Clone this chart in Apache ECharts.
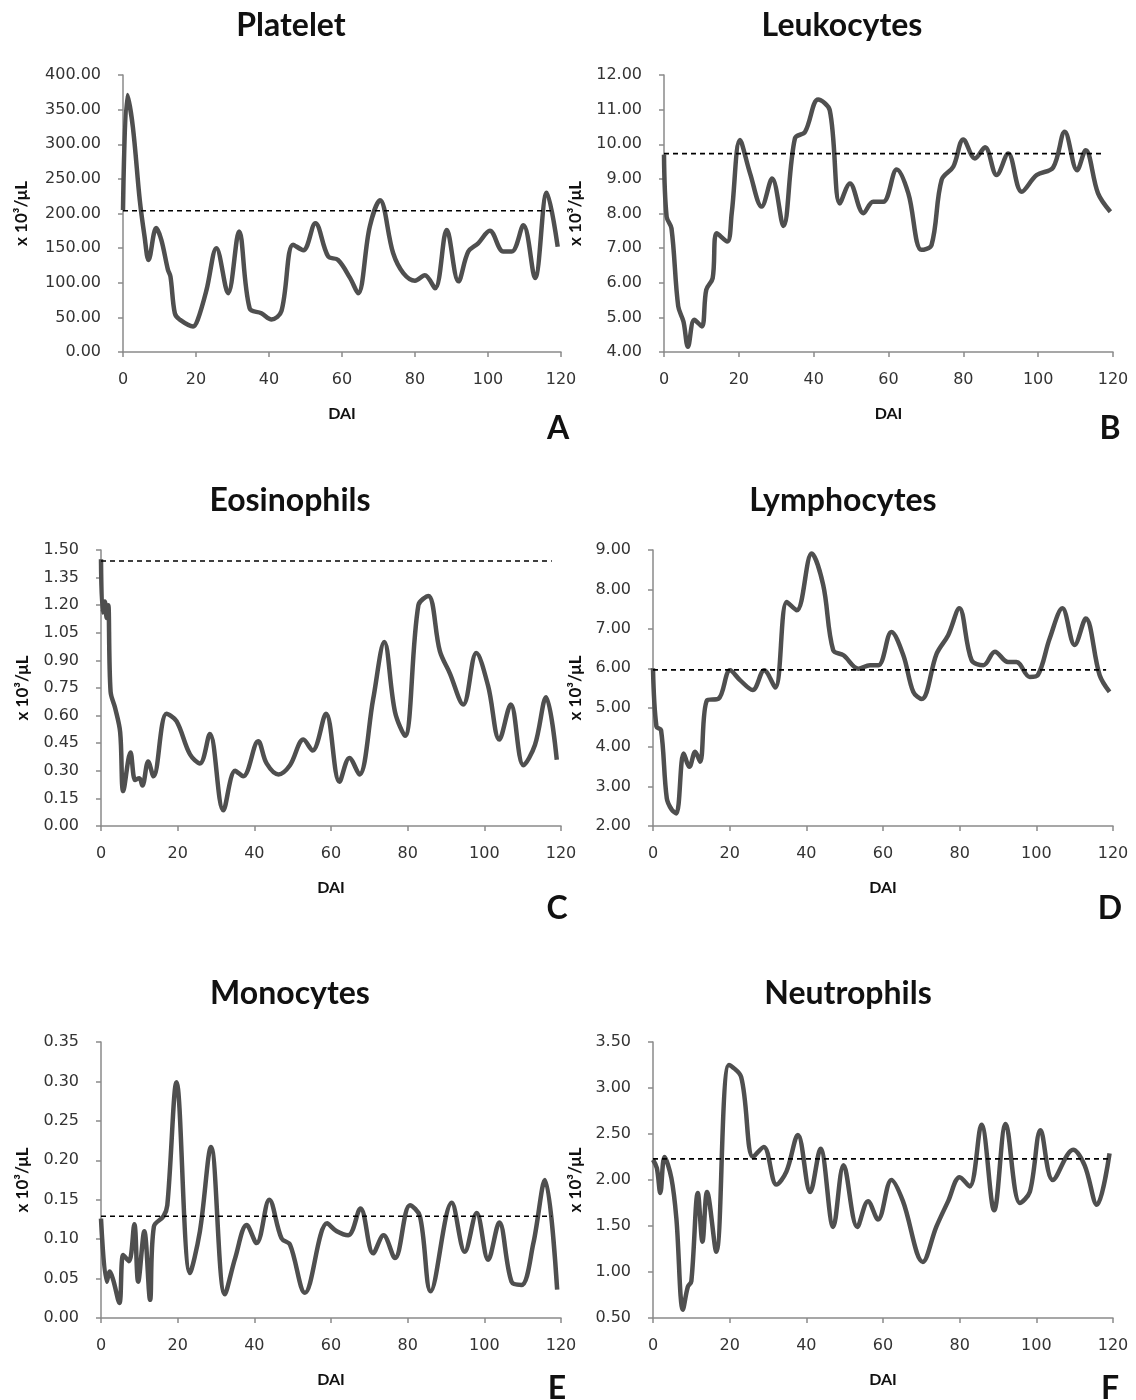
<!DOCTYPE html>
<html><head><meta charset="utf-8">
<script src="https://cdn.jsdelivr.net/npm/echarts@6/dist/echarts.min.js"></script>
<style>html,body{margin:0;padding:0;background:#fff}#c{width:1136px;height:1400px}</style>
</head><body><div id="c"></div>
<script>
const titles = ['Platelet','Leukocytes','Eosinophils','Lymphocytes','Monocytes','Neutrophils'];
const letters = ['A','B','C','D','E','F'];
const yUnit = 'x 10\u00b3/\u03bcL';
const xName = 'DAI';
const xTicks = [0, 20, 40, 60, 80, 100, 120];

const plateletDay = [0,1.2,2.7,4.6,5.9,7.0,9.1,10.5,12.3,13.0,14.2,15.5,19.2,20.5,22.9,25.6,28.8,31.8,34.7,37.9,40.7,43.4,46.6,49.4,52.7,56.2,58.9,62.2,64.4,67.6,70.4,74.0,76.8,80.0,82.7,85.5,88.7,91.9,94.6,97.3,100.5,104.2,106.5,109.7,112.9,116.1,119.1];
const plateletVal = [205,371,325,219,167,133,179,162,119,109,56,47,37,47,90,150,85,174,63,56,47,59,155,147,186,138,133,107,85,181,219,143,114,103,111,92,176,102,145,157,175,145,145,183,107,230,152];

const leukoDay = [0,0.7,2.0,3.8,5.2,6.4,8.1,10.1,11.3,13.0,14.1,16.9,18.1,20.3,23.0,26.1,28.9,31.9,35.0,37.7,41.2,44.3,47.0,49.7,53.3,55.9,58.6,62.2,65.3,68.8,71.5,74.2,77.3,80.0,83.1,85.8,88.9,92.0,95.6,99.6,104.0,107.1,110.4,112.7,116.0,119.3];
const leukoVal = [9.7,7.91,7.57,5.32,4.88,4.15,4.93,4.74,5.80,6.13,7.43,7.19,8.01,10.12,9.16,8.20,9.01,7.64,10.17,10.36,11.29,10.98,8.29,8.87,8.01,8.34,8.34,9.27,8.58,6.95,7.09,8.97,9.35,10.14,9.59,9.91,9.11,9.73,8.63,9.11,9.33,10.36,9.25,9.83,8.58,8.05];

const eosDay = [0,0.4,1.0,1.5,1.9,2.5,3.7,5.0,5.8,7.7,8.9,10.0,10.8,12.3,13.7,17.1,19.7,23.2,25.8,28.4,31.9,35.0,37.1,41.0,43.2,46.3,49.3,52.8,55.2,58.7,62.2,64.8,67.4,71.0,73.9,76.7,79.3,82.8,85.4,88.4,91.0,94.5,97.9,101.0,103.9,106.9,110.2,113.2,116.1,118.9];
const eosVal = [1.45,1.16,1.22,1.13,1.20,0.73,0.64,0.51,0.19,0.40,0.25,0.26,0.22,0.35,0.27,0.61,0.57,0.39,0.34,0.50,0.085,0.30,0.27,0.46,0.34,0.28,0.33,0.47,0.41,0.61,0.24,0.37,0.28,0.69,1.00,0.62,0.49,1.20,1.25,0.95,0.83,0.66,0.94,0.76,0.47,0.66,0.33,0.44,0.70,0.36];

const lymphDay = [0,0.9,2.1,3.6,4.9,6.1,8.0,9.5,11.0,12.3,14.1,17.1,20.1,22.7,26.0,29.0,31.9,34.9,37.5,41.4,44.4,47.0,49.7,53.6,56.6,58.8,62.2,65.3,67.9,70.1,74.0,77.0,79.9,83.1,86.2,89.2,92.6,94.8,98.3,100.4,103.5,106.8,110.0,112.9,116.5,119.1];
const lymphVal = [6.0,4.52,4.43,2.70,2.41,2.32,3.84,3.50,3.88,3.63,5.19,5.23,5.95,5.70,5.45,5.95,5.51,7.68,7.47,8.91,8.11,6.46,6.33,5.99,6.08,6.08,6.92,6.33,5.40,5.22,6.37,6.84,7.52,6.21,6.08,6.42,6.16,6.16,5.78,5.83,6.76,7.52,6.59,7.26,5.83,5.40];

const monoDay = [0,1.5,2.3,3.2,4.8,5.8,7.3,8.7,9.7,11.3,12.8,13.8,16.3,17.3,19.7,23.2,25.8,28.7,32.3,35.0,38.0,40.6,43.9,47.1,49.3,53.2,59.0,61.5,64.5,67.7,71.0,73.7,76.7,80.6,83.2,86.0,91.5,94.9,98.0,101.0,103.9,107.1,109.7,112.8,115.8,119.0];
const monoVal = [0.126,0.046,0.059,0.048,0.019,0.080,0.072,0.119,0.046,0.110,0.023,0.116,0.129,0.143,0.299,0.057,0.110,0.217,0.030,0.076,0.118,0.095,0.150,0.101,0.093,0.032,0.120,0.110,0.105,0.139,0.082,0.105,0.076,0.143,0.129,0.034,0.146,0.084,0.133,0.074,0.121,0.046,0.042,0.095,0.175,0.036];

const neutDay = [0,1.0,1.9,3.0,4.8,6.1,7.8,9.1,10.0,11.7,12.9,14.1,16.5,19.8,23.0,26.1,28.9,32.2,34.8,37.8,41.0,43.7,47.0,49.7,53.3,56.1,58.7,62.2,65.2,70.4,73.9,77.0,80.0,82.6,85.7,89.0,92.0,95.7,98.3,101.1,104.3,109.6,112.6,115.8,119.1];
const neutVal = [2.22,2.13,1.86,2.25,2.02,1.58,0.59,0.84,0.90,1.86,1.33,1.87,1.22,3.25,3.12,2.25,2.36,1.95,2.09,2.49,1.87,2.34,1.49,2.16,1.49,1.77,1.57,2.00,1.77,1.11,1.49,1.77,2.03,1.93,2.60,1.67,2.61,1.75,1.87,2.54,2.00,2.33,2.16,1.73,2.29];

const refLevel = [204, 9.73, 1.44, 5.96, 0.129, 2.23];
const refEnd = [117.5, 117.5, 117.6, 118.2, 117.6, 119];

const yMin = [0, 4, 0, 2, 0, 0.5];
const yMax = [400, 12, 1.5, 9, 0.35, 3.5];
const yStep = [50, 1, 0.15, 1, 0.05, 0.5];

const days = [plateletDay, leukoDay, eosDay, lymphDay, monoDay, neutDay];
const vals = [plateletVal, leukoVal, eosVal, lymphVal, monoVal, neutVal];

// layout (pixels)
const grids = [
  {left:123, top:75, width:438, height:277},
  {left:664, top:75, width:449, height:277},
  {left:101, top:550, width:460, height:276},
  {left:653, top:550, width:460, height:276},
  {left:101, top:1042, width:460, height:276},
  {left:653, top:1042, width:460, height:276}
];
const titlePos = [[291,26],[842,26],[290,501],[843,501],[290,994],[848,994]];
const letterPos = [[558,429],[1110,429],[557,909],[1110,909],[557,1389],[1110,1389]];
const yNameGap = [93, 80, 70, 69, 70, 69];

const FONT_T = 'Lato, "Open Sans", sans-serif';
const FONT_L = '"DejaVu Sans", Verdana, sans-serif';

const chart = echarts.init(document.getElementById('c'), null, {renderer:'canvas'});
const option = {
  backgroundColor:'#fff',
  animation:false,
  grid: grids.map(g => Object.assign({containLabel:false}, g)),
  xAxis: grids.map((g,i) => ({
    type:'value', gridIndex:i, min:xTicks[0], max:xTicks[xTicks.length-1], interval:20,
    name:xName, nameLocation:'middle', nameGap:54,
    nameTextStyle:{fontFamily:FONT_T, fontWeight:'bold', fontSize:16, color:'#111'},
    axisLine:{show:true, onZero:false, lineStyle:{color:'#8a8a8a', width:1.5}},
    axisTick:{show:true, inside:false, length:5, lineStyle:{color:'#8a8a8a', width:1.5}},
    axisLabel:{fontFamily:FONT_L, fontSize:16, color:'#333', margin:20},
    splitLine:{show:false}
  })),
  yAxis: grids.map((g,i) => ({
    type:'value', gridIndex:i, min:yMin[i], max:yMax[i], interval:yStep[i],
    name:yUnit, nameLocation:'middle', nameRotate:90, nameGap:yNameGap[i],
    nameTextStyle:{fontFamily:FONT_T, fontWeight:'bold', fontSize:17, color:'#111'},
    axisLine:{show:true, onZero:false, lineStyle:{color:'#8a8a8a', width:1.5}},
    axisTick:{show:true, inside:false, length:5, lineStyle:{color:'#8a8a8a', width:1.5}},
    axisLabel:{fontFamily:FONT_L, fontSize:16, color:'#333', margin:22,
      formatter: v => v.toFixed(2)},
    splitLine:{show:false}
  })),
  series: [],
  graphic: []
};
for (let i = 0; i < 6; i++) {
  option.series.push({
    type:'line', xAxisIndex:i, yAxisIndex:i, smooth:0.35, symbol:'none',
    lineStyle:{color:'#4f4f4f', width:4.5}, z:2,
    data: days[i].map((d,k) => [d, vals[i][k]])
  });
  option.series.push({
    type:'line', xAxisIndex:i, yAxisIndex:i, symbol:'none', silent:true,
    lineStyle:{color:'#000', width:1.6, type:[5,4]}, z:3,
    data: [[0, refLevel[i]], [refEnd[i], refLevel[i]]]
  });
  option.graphic.push({
    type:'text', x:titlePos[i][0], y:titlePos[i][1],
    style:{text:titles[i], font:'bold 32px ' + FONT_T, fill:'#111', align:'center', verticalAlign:'middle'}
  });
  option.graphic.push({
    type:'text', x:letterPos[i][0], y:letterPos[i][1],
    style:{text:letters[i], font:'bold 32px ' + FONT_T, fill:'#111', align:'center', verticalAlign:'middle'}
  });
}
chart.setOption(option);
</script>
</body></html>
